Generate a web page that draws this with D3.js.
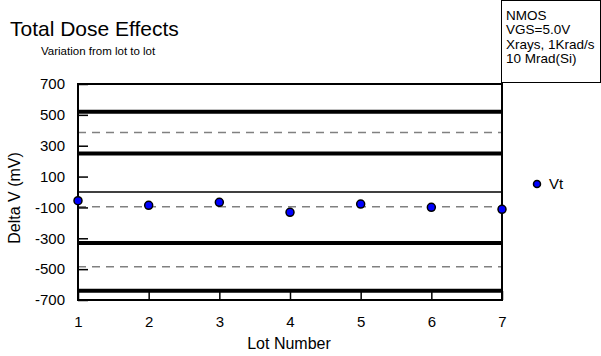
<!DOCTYPE html>
<html>
<head>
<meta charset="utf-8">
<script src="https://cdn.jsdelivr.net/npm/d3@7"></script>
<style>
  body { margin: 0; background: #fff; }
  text { font-family: "Liberation Sans", Arial, sans-serif; fill: #000; }
</style>
</head>
<body>
<div id="chart"></div>
<script>
// lot numbers and threshold shift readings
var lots = [1, 2, 3, 4, 5, 6, 7];
var vt = [-56, -86, -67, -132, -78, -99, -112];

// horizontal reference lines (mV)
var thickLines = [520, 250, -330, -640];
var dashedLines = [385, -95, -485];
var zeroLine = [0];

var yTicks = [700, 500, 300, 100, -100, -300, -500, -700];
var infoLines = ["NMOS", "VGS=5.0V", "Xrays, 1Krad/s", "10 Mrad(Si)"];

var W = 601, H = 356;
var svg = d3.select("#chart")
  .append("svg")
    .attr("width", W)
    .attr("height", H);

var x = d3.scaleLinear()
  .domain([1, 7])
  .range([78, 502]);

var y = d3.scaleLinear()
  .domain([-700, 700])
  .range([300, 84]);

// title
svg.append("text")
  .attr("x", 10).attr("y", 36)
  .style("font-size", "21px")
  .text("Total Dose Effects");
svg.append("text")
  .attr("x", 41).attr("y", 55)
  .style("font-size", "11.5px")
  .text("Variation from lot to lot");

// reference lines
svg.selectAll(".thick")
  .data(thickLines)
  .enter().append("line")
    .attr("x1", x(1)).attr("x2", x(7))
    .attr("y1", d => y(d)).attr("y2", d => y(d))
    .attr("stroke", "#000")
    .attr("stroke-width", 4);

svg.selectAll(".dash")
  .data(dashedLines)
  .enter().append("line")
    .attr("x1", x(1)).attr("x2", x(7))
    .attr("y1", d => y(d)).attr("y2", d => y(d))
    .attr("stroke", "#808080")
    .attr("stroke-width", 1.5)
    .attr("stroke-dasharray", "8,6");

svg.selectAll(".zero")
  .data(zeroLine)
  .enter().append("line")
    .attr("x1", x(1)).attr("x2", x(7))
    .attr("y1", d => y(d)).attr("y2", d => y(d))
    .attr("stroke", "#000")
    .attr("stroke-width", 1.5);

// frame
svg.append("rect")
  .attr("x", x(1)).attr("y", y(700))
  .attr("width", x(7) - x(1))
  .attr("height", y(-700) - y(700))
  .attr("fill", "none")
  .attr("stroke", "#000")
  .attr("stroke-width", 2);

// axes (plain hyphen for negatives, like the original)
var yAxis = svg.append("g")
  .attr("transform", "translate(" + x(1) + ",0)")
  .call(d3.axisLeft(y).tickValues(yTicks).tickSize(-10).tickPadding(13).tickFormat(d => String(d)));
yAxis.select(".domain").remove();
yAxis.selectAll("line").attr("stroke", "#000").attr("stroke-width", 1.5);
yAxis.selectAll("text").style("font-size", "15px").attr("font-family", null);

var xAxis = svg.append("g")
  .attr("transform", "translate(0," + y(-700) + ")")
  .call(d3.axisBottom(x).tickValues(lots).tickSize(-9).tickPadding(16).tickFormat(d => String(d)));
xAxis.select(".domain").remove();
xAxis.selectAll("line").attr("stroke", "#000").attr("stroke-width", 1.5);
xAxis.selectAll("text").style("font-size", "15px").attr("font-family", null);

// axis titles
svg.append("text")
  .attr("transform", "translate(20,198) rotate(-90)")
  .attr("text-anchor", "middle")
  .style("font-size", "16px")
  .text("Delta V (mV)");
svg.append("text")
  .attr("x", 289).attr("y", 349)
  .attr("text-anchor", "middle")
  .style("font-size", "16px")
  .text("Lot Number");

// points
svg.selectAll(".pt")
  .data(lots)
  .enter().append("circle")
    .attr("cx", d => x(d))
    .attr("cy", (d, i) => y(vt[i]))
    .attr("r", 4)
    .attr("fill", "#0000ff")
    .attr("stroke", "#000")
    .attr("stroke-width", 1.5);

// legend
svg.append("circle")
  .attr("cx", 537).attr("cy", 184)
  .attr("r", 3.5)
  .attr("fill", "#0000ff")
  .attr("stroke", "#000")
  .attr("stroke-width", 1.5);
svg.append("text")
  .attr("x", 549).attr("y", 189)
  .style("font-size", "15px")
  .text("Vt");

// info box
svg.append("rect")
  .attr("x", 501.5).attr("y", 0.5)
  .attr("width", 99).attr("height", 82)
  .attr("fill", "#fff")
  .attr("stroke", "#000")
  .attr("stroke-width", 1);
svg.selectAll(".info")
  .data(infoLines)
  .enter().append("text")
    .attr("x", 506)
    .attr("y", (d, i) => 19.5 + i * 14.6)
    .style("font-size", "13.5px")
    .text(d => d);
</script>
</body>
</html>
